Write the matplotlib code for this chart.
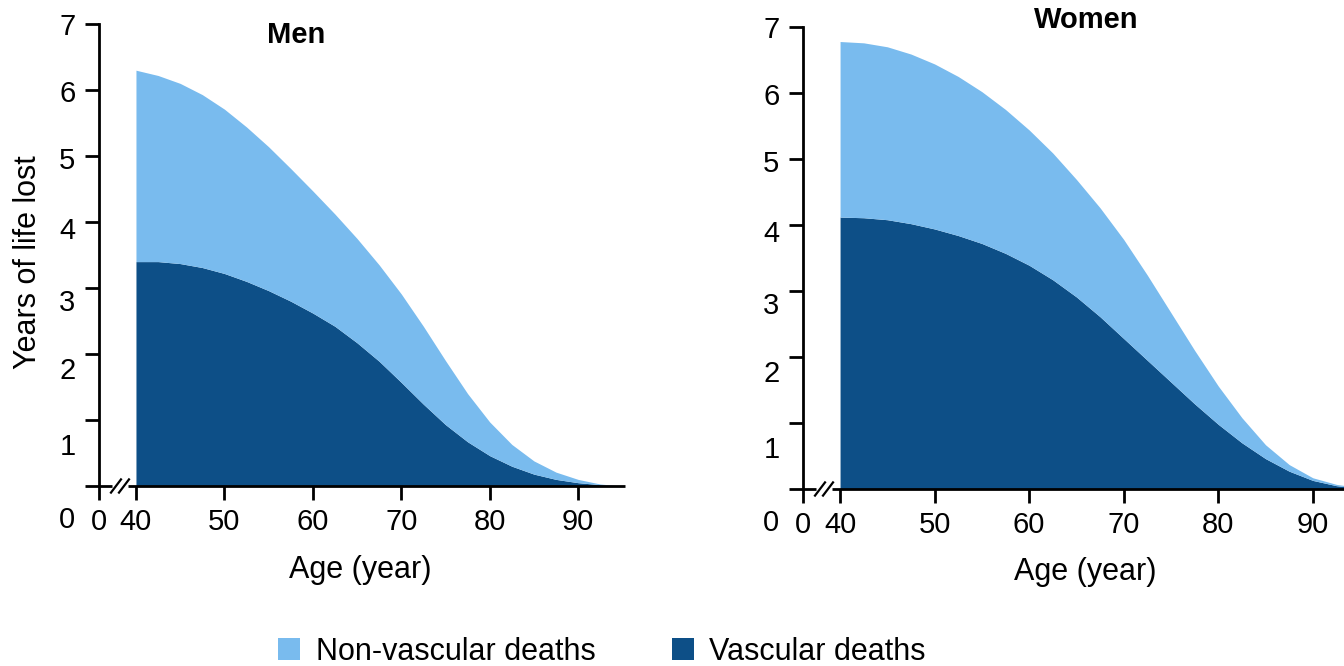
import matplotlib
matplotlib.use("Agg")
import matplotlib.pyplot as plt
from matplotlib.patches import Patch
from matplotlib.transforms import ScaledTranslation

plt.rcParams["font.family"] = ["Liberation Sans", "DejaVu Sans"]

# Years of life lost by age
ages = [40, 42.5, 45, 47.5, 50, 52.5, 55, 57.5, 60, 62.5, 65, 67.5,
        70, 72.5, 75, 77.5, 80, 82.5, 85, 87.5, 90, 92.5, 95]

men_total = [6.30, 6.22, 6.10, 5.93, 5.71, 5.44, 5.14, 4.81, 4.47, 4.12, 3.75, 3.35,
             2.91, 2.42, 1.90, 1.40, 0.97, 0.63, 0.38, 0.21, 0.10, 0.03, 0.0]
men_vascular = [3.40, 3.40, 3.37, 3.31, 3.22, 3.10, 2.96, 2.80, 2.62, 2.42, 2.17, 1.89,
                1.57, 1.24, 0.93, 0.67, 0.46, 0.30, 0.18, 0.10, 0.05, 0.02, 0.0]

women_total = [6.78, 6.76, 6.70, 6.59, 6.44, 6.25, 6.02, 5.75, 5.44, 5.09, 4.69, 4.26,
               3.78, 3.24, 2.67, 2.10, 1.56, 1.08, 0.67, 0.37, 0.17, 0.07, 0.02]
women_vascular = [4.12, 4.11, 4.08, 4.02, 3.94, 3.84, 3.72, 3.57, 3.39, 3.17, 2.91, 2.61,
                  2.28, 1.95, 1.62, 1.29, 0.98, 0.70, 0.46, 0.27, 0.13, 0.05, 0.01]

x_ticks = [40, 50, 60, 70, 80, 90]
y_ticks = [0, 1, 2, 3, 4, 5, 6, 7]

LIGHT = "#79bbee"
DARK = "#0d4f87"

fig = plt.figure(figsize=(13.44, 6.66), dpi=100)

# (axes rect, x-limits) chosen so the axis break sits just left of age 40
panels = [
    ([99 / 1344, 180 / 666, 526 / 1344, 462 / 666], (35.82, 95.3), 8.85,
     men_total, men_vascular),
    ([803 / 1344, 177 / 666, 576 / 1344, 462 / 666], (36.08, 97.0), 9.45,
     women_total, women_vascular),
]

# per-label downward shift of the y tick labels (pixels), as in the original
y_label_drop = [31, 24, 14, 12, 6, 2, 1, 0]

for rect, xlim, px_per_year, total, vasc in panels:
    ax = fig.add_axes(rect)
    ax.fill_between(ages, 0, vasc, color=DARK, lw=0)
    ax.fill_between(ages, vasc, total, color=LIGHT, lw=0)

    ax.set_xlim(*xlim)
    ax.set_ylim(0, 7)

    for s in ["top", "right", "bottom"]:
        ax.spines[s].set_visible(False)
    ax.spines["left"].set_linewidth(2)

    # broken x axis
    x0 = xlim[0]
    gap_a = x0 + 13 / px_per_year
    gap_b = x0 + 29 / px_per_year
    ax.plot([x0, gap_a], [0, 0], color="k", lw=2, clip_on=False, solid_capstyle="butt")
    ax.plot([gap_b, xlim[1]], [0, 0], color="k", lw=2, clip_on=False, solid_capstyle="butt")
    for off in [17, 25]:
        xc = x0 + off / px_per_year
        ax.plot([xc - 5 / px_per_year, xc + 5 / px_per_year], [-0.1, 0.1],
                color="k", lw=1.6, clip_on=False)

    ax.set_xticks([x0] + x_ticks)
    ax.set_xticklabels(["0"] + [str(t) for t in x_ticks])
    ax.set_yticks(y_ticks)
    ax.set_yticklabels([str(t) for t in y_ticks])
    ax.tick_params(axis="both", length=10, width=2, labelsize=21, color="k")
    ax.tick_params(axis="x", pad=6)
    ax.tick_params(axis="y", pad=7)

    for lab, drop in zip(ax.get_yticklabels(), y_label_drop):
        lab.set_transform(lab.get_transform() + ScaledTranslation(0, -drop / 100, fig.dpi_scale_trans))

fig.text(296 / 1344, 1 - 35 / 666, "Men", fontsize=21, fontweight="bold", ha="center", va="center")
fig.text(1086 / 1344, 1 - 20 / 666, "Women", fontsize=21, fontweight="bold", ha="center", va="center")
fig.text(360 / 1344, 1 - 570 / 666, "Age (year)", fontsize=22, ha="center", va="center")
fig.text(1085 / 1344, 1 - 572 / 666, "Age (year)", fontsize=22, ha="center", va="center")
fig.text(28 / 1344, 1 - 262 / 666, "Years of life lost", fontsize=22, rotation=90,
         ha="center", va="center")

handles = [Patch(facecolor=LIGHT, edgecolor="none", label="Non-vascular deaths"),
           Patch(facecolor=DARK, edgecolor="none", label="Vascular deaths")]
fig.legend(handles=handles, ncol=2, frameon=False, loc="center",
           bbox_to_anchor=(602 / 1344, 1 - 652 / 666), fontsize=22,
           handlelength=0.72, handleheight=0.72, handletextpad=0.5, columnspacing=2.5)

fig.savefig("out.png", dpi=100, facecolor="white")
